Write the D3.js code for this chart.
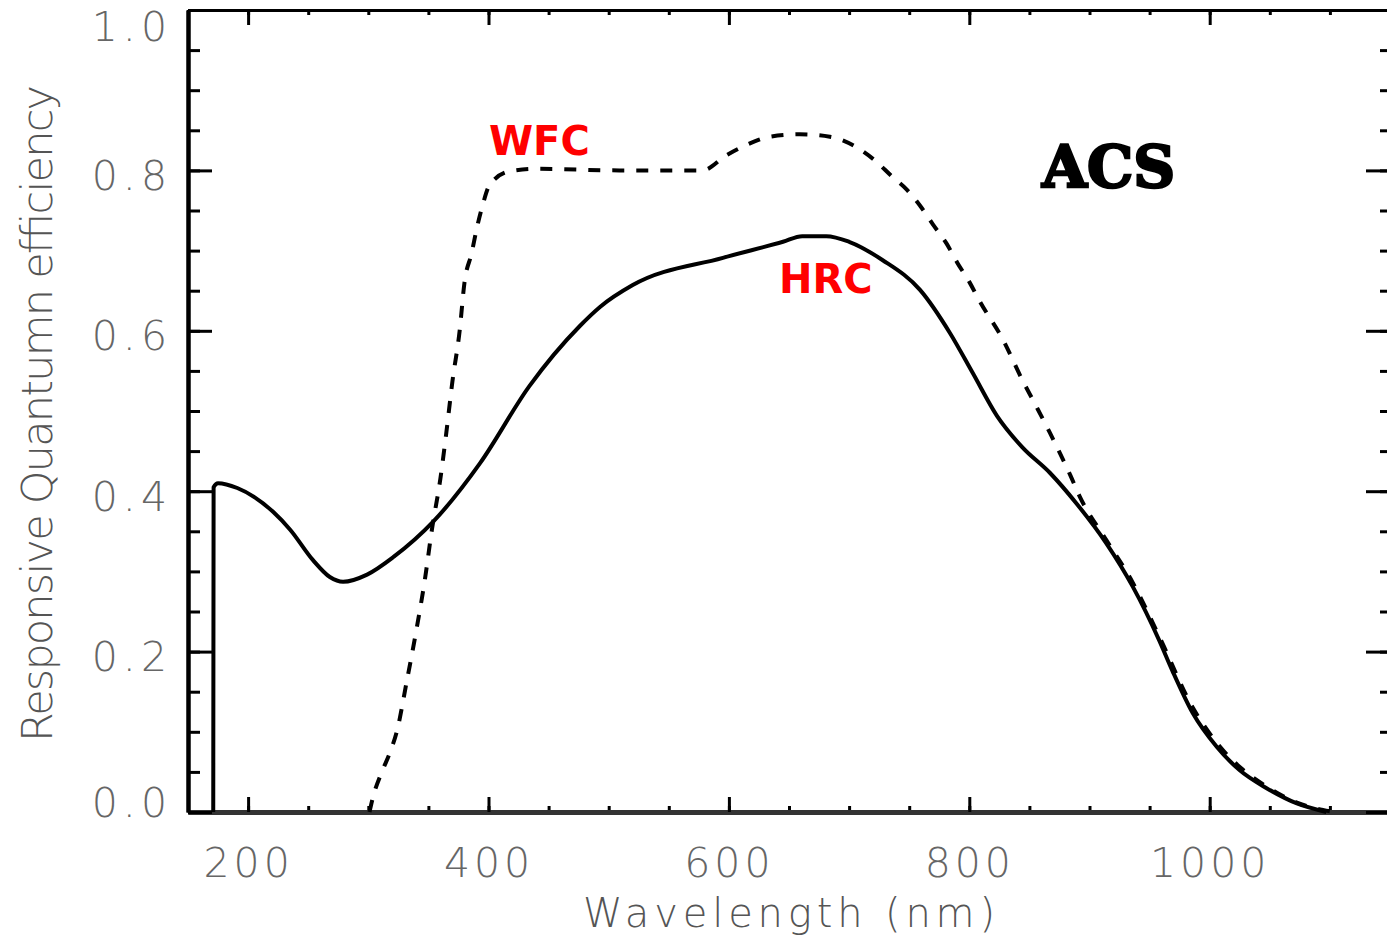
<!DOCTYPE html>
<html lang="en">
<head>
<meta charset="utf-8">
<title>ACS quantum efficiency</title>
<script src="https://cdn.jsdelivr.net/npm/d3@7"></script>
<style>
  body { margin: 0; background: #fff; }
  .tick text { font-family: "DejaVu Sans", sans-serif; font-weight: 200; fill: #666; }
</style>
</head>
<body>
<script>
// Chart size
var w = 1387;
var h = 940;

// HRC (solid) – wavelength (nm) and QE
var hrcWave = [171, 171.3, 175, 191, 221, 235, 254, 268, 279, 299, 321, 354, 393, 434, 476, 493, 520, 595, 645, 661, 681, 700, 728, 759, 784, 803, 823, 844, 867, 889, 914, 936, 958, 969, 986, 1006, 1025, 1047, 1072, 1097];
var hrcQE   = [0, 0.405, 0.41, 0.404, 0.374, 0.352, 0.314, 0.293, 0.287, 0.296, 0.318, 0.362, 0.435, 0.531, 0.606, 0.630, 0.657, 0.691, 0.711, 0.718, 0.718, 0.711, 0.688, 0.651, 0.597, 0.547, 0.494, 0.455, 0.423, 0.385, 0.335, 0.281, 0.214, 0.176, 0.123, 0.081, 0.052, 0.030, 0.011, 0.0];

// WFC (dashed)
var wfcWave = [301, 304, 311, 318, 324, 332, 340, 347, 353, 360, 365, 370, 376, 380, 386, 390, 395, 401, 418, 440, 509, 578, 598, 615, 634, 659, 684, 706, 721, 736, 748, 760, 770, 781, 790, 800, 809, 828, 844, 856, 867, 884, 892, 914, 936, 958, 986, 1006, 1025, 1047, 1072, 1100];
var wfcQE   = [0, 0.019, 0.049, 0.074, 0.102, 0.163, 0.227, 0.289, 0.353, 0.416, 0.474, 0.537, 0.600, 0.660, 0.697, 0.726, 0.756, 0.782, 0.799, 0.802, 0.800, 0.800, 0.819, 0.832, 0.842, 0.845, 0.842, 0.829, 0.813, 0.792, 0.776, 0.754, 0.732, 0.709, 0.685, 0.661, 0.636, 0.589, 0.539, 0.505, 0.473, 0.420, 0.393, 0.339, 0.286, 0.219, 0.130, 0.086, 0.056, 0.032, 0.012, 0.001];

// tick values
var xMajorTicks = [200, 400, 600, 800, 1000];
var xMinorTicks = d3.range(150, 1151, 50);
var yMajorTicks = [0, 0.2, 0.4, 0.6, 0.8, 1.0];
var yMinorTicks = d3.range(0, 1.001, 0.05);

var xScale = d3.scaleLinear().domain([150, 1150]).range([188, 1390]);
var yScale = d3.scaleLinear().domain([0, 1]).range([812, 10]);

var svg = d3.select("body").append("svg")
    .attr("width", w)
    .attr("height", h)
    .style("background", "#fff");

function styleAxis(g, color, width) {
    g.select(".domain").attr("stroke", color).attr("stroke-width", width);
    g.selectAll(".tick line").attr("stroke", "#000").attr("stroke-width", 3);
}

// bottom axis
svg.append("g")
    .attr("transform", "translate(0," + yScale(0) + ")")
    .call(d3.axisBottom(xScale).tickValues(xMinorTicks).tickSize(-6).tickSizeOuter(0).tickFormat(""))
    .call(styleAxis, "#333", 5);
var xAx = svg.append("g")
    .attr("transform", "translate(0," + yScale(0) + ")")
    .call(d3.axisBottom(xScale).tickValues(xMajorTicks).tickSize(-15).tickSizeOuter(0).tickFormat(d3.format("d")))
    .call(styleAxis, "#333", 5);
xAx.selectAll(".tick text")
    .attr("y", 65).attr("dy", 0)
    .attr("font-size", 41)
    .attr("letter-spacing", 4);

// top axis
svg.append("g")
    .attr("transform", "translate(0," + yScale(1) + ")")
    .call(d3.axisTop(xScale).tickValues(xMinorTicks).tickSize(-5).tickSizeOuter(0).tickFormat(""))
    .call(styleAxis, "#000", 3);
svg.append("g")
    .attr("transform", "translate(0," + yScale(1) + ")")
    .call(d3.axisTop(xScale).tickValues(xMajorTicks).tickSize(-15).tickSizeOuter(0).tickFormat(""))
    .call(styleAxis, "#000", 3);

// left axis
svg.append("g")
    .attr("transform", "translate(" + xScale(150) + ",0)")
    .call(d3.axisLeft(yScale).tickValues(yMinorTicks).tickSize(-12).tickSizeOuter(0).tickFormat(""))
    .call(styleAxis, "#000", 4);
var yAx = svg.append("g")
    .attr("transform", "translate(" + xScale(150) + ",0)")
    .call(d3.axisLeft(yScale).tickValues(yMajorTicks).tickSize(-24).tickSizeOuter(0).tickFormat(d3.format(".1f")))
    .call(styleAxis, "#000", 4);
yAx.selectAll(".tick text")
    .attr("x", -16)
    .attr("dy", function(d) { return d === 1 ? 30 : d === 0 ? 4 : 19; })
    .attr("font-size", 41)
    .attr("letter-spacing", 5);

// right axis
svg.append("g")
    .attr("transform", "translate(" + xScale(1150) + ",0)")
    .call(d3.axisRight(yScale).tickValues(yMinorTicks).tickSize(-10).tickSizeOuter(0).tickFormat(""))
    .call(styleAxis, "#000", 3);
svg.append("g")
    .attr("transform", "translate(" + xScale(1150) + ",0)")
    .call(d3.axisRight(yScale).tickValues(yMajorTicks).tickSize(-24).tickSizeOuter(0).tickFormat(""))
    .call(styleAxis, "#000", 3);

// axis titles
svg.append("text")
    .attr("x", 583)
    .attr("y", 927)
    .attr("textLength", 412)
    .attr("lengthAdjust", "spacing")
    .style("font-family", "DejaVu Sans, sans-serif")
    .style("font-weight", 200)
    .style("font-size", "40px")
    .style("fill", "#555")
    .text("Wavelength  (nm)");

svg.append("text")
    .attr("transform", "translate(52,742) rotate(-90)")
    .attr("textLength", 657)
    .attr("lengthAdjust", "spacing")
    .style("font-family", "DejaVu Sans, sans-serif")
    .style("font-weight", 200)
    .style("font-size", "43px")
    .style("fill", "#555")
    .text("Responsive Quantumn efficiency");

// curves
var line = d3.line()
    .x(function(d) { return xScale(d[0]); })
    .y(function(d) { return yScale(d[1]); })
    .curve(d3.curveMonotoneX);

var hrc = d3.zip(hrcWave, hrcQE);
var wfc = d3.zip(wfcWave, wfcQE);

svg.append("path")
    .datum(wfc)
    .attr("d", line)
    .attr("fill", "none")
    .attr("stroke", "#000")
    .attr("stroke-width", 4)
    .attr("stroke-dasharray", "12,12");

svg.append("path")
    .datum(hrc)
    .attr("d", line)
    .attr("fill", "none")
    .attr("stroke", "#000")
    .attr("stroke-width", 4)
    .attr("stroke-linejoin", "round");

// labels
svg.append("text")
    .attr("x", 489).attr("y", 155)
    .style("font-family", "DejaVu Sans, sans-serif")
    .style("font-weight", "bold")
    .style("font-size", "40px")
    .style("fill", "#ff0000")
    .text("WFC");

svg.append("text")
    .attr("x", 779).attr("y", 293)
    .style("font-family", "DejaVu Sans, sans-serif")
    .style("font-weight", "bold")
    .style("font-size", "40px")
    .style("fill", "#ff0000")
    .text("HRC");

svg.append("text")
    .attr("x", 1042).attr("y", 187)
    .style("font-family", "DejaVu Serif, serif")
    .style("font-weight", "bold")
    .style("font-size", "58px")
    .style("fill", "#000")
    .style("stroke", "#000")
    .style("stroke-width", 2.5)
    .text("ACS");
</script>
</body>
</html>
